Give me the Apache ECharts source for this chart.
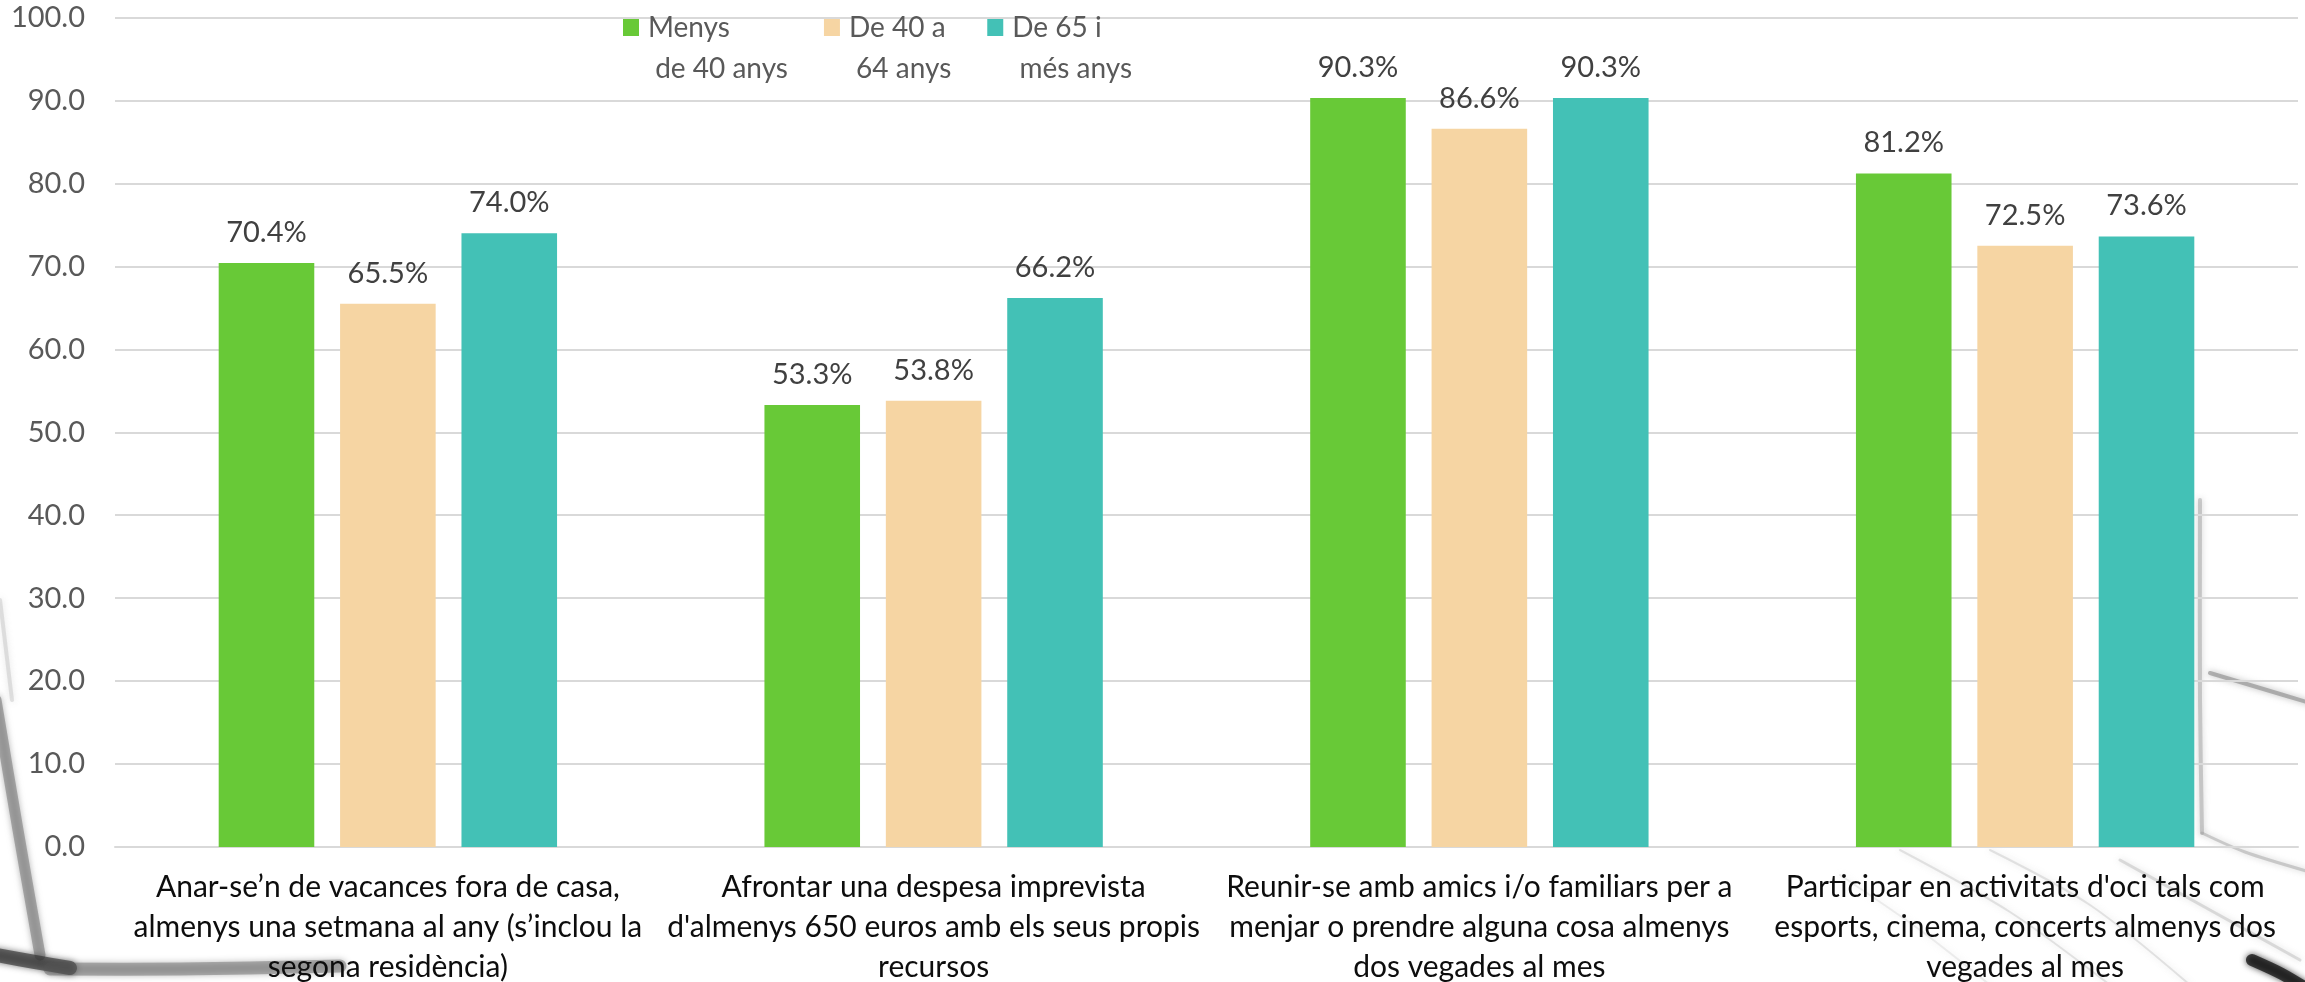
<!DOCTYPE html>
<html>
<head>
<meta charset="utf-8">
<script src="https://cdn.jsdelivr.net/npm/echarts@6/dist/echarts.min.js"></script>
<style>
  html, body { margin: 0; padding: 0; background: #fff; }
  #chart { width: 2305px; height: 982px; }
</style>
</head>
<body>
<div id="chart"></div>
<script>
const categories = [
  "Anar-se’n de vacances fora de casa,\nalmenys una setmana al any (s’inclou la\nsegona residència)",
  "Afrontar una despesa imprevista\nd'almenys 650 euros amb els seus propis\nrecursos",
  "Reunir-se amb amics i/o familiars per a\nmenjar o prendre alguna cosa almenys\ndos vegades al mes",
  "Participar en activitats d'oci tals com\nesports, cinema, concerts almenys dos\nvegades al mes"
];
const seriesNames = ["Menys de 40 anys", "De 40 a 64 anys", "De 65 i més anys"];
// legend text wraps like the original: blank first line keeps the square on line one
const legendLines = {
  "Menys de 40 anys": "\nMenys\n de 40 anys",
  "De 40 a 64 anys": "\nDe 40 a\n 64 anys",
  "De 65 i més anys": "\nDe 65 i\n més anys"
};
const under40 = [70.4, 53.3, 90.3, 81.2];
const from40to64 = [65.5, 53.8, 86.6, 72.5];
const over65 = [74.0, 66.2, 90.3, 73.6];
const colors = ["#68C937", "#F6D5A3", "#43C1B6"];

const chart = echarts.init(document.getElementById("chart"));
const font = "Lato, 'Liberation Sans', sans-serif";

function barSeries(name, data, color) {
  return {
    name,
    type: "bar",
    z: 3,
    data,
    barGap: "27%",
    barCategoryGap: "38%",
    itemStyle: { color },
    label: {
      show: true,
      position: "top",
      distance: 16,
      formatter: (p) => p.value.toFixed(1) + "%",
      fontFamily: font,
      fontSize: 29,
      color: "#404040"
    }
  };
}

// faint grey streaks of the slide background
function streak(points, width, color, opacity) {
  return {
    type: "polyline",
    silent: true,
    z: -10,
    shape: { points, smooth: 0.3 },
    style: {
      stroke: color, lineWidth: width, opacity, fill: null, lineCap: "round",
      shadowBlur: 6, shadowColor: color
    }
  };
}

chart.setOption({
  backgroundColor: "#fff",
  animation: false,
  textStyle: { fontFamily: font },
  grid: { left: 115, right: 7, top: 17.6, bottom: 135, outerBoundsMode: "none" },
  graphic: {
    elements: [
      streak([[-4, 700], [18, 830], [40, 955]], 11, "#777", 0.55),
      streak([[-4, 955], [35, 962], [70, 968]], 14, "#333", 0.65),
      streak([[50, 969], [180, 969], [340, 966]], 13, "#555", 0.4),
      streak([[0, 600], [6, 650], [12, 700]], 4, "#aaa", 0.3),
      streak([[2200, 500], [2200, 700], [2202, 833]], 4, "#999", 0.45),
      streak([[2202, 833], [2245, 852], [2310, 872]], 3, "#999", 0.45),
      streak([[2210, 673], [2260, 688], [2310, 703]], 4, "#777", 0.5),
      streak([[2252, 960], [2282, 974], [2312, 992]], 12, "#111", 0.75),
      streak([[1900, 850], [2010, 912], [2110, 985]], 2, "#aaa", 0.3),
      streak([[1990, 850], [2090, 905], [2190, 985]], 2, "#aaa", 0.3),
      streak([[2120, 860], [2210, 910], [2300, 960]], 3, "#999", 0.3),
      streak([[1840, 875], [1920, 930], [1990, 985]], 2, "#bbb", 0.25)
    ]
  },
  legend: {
    data: seriesNames,
    left: 618,
    top: -39,
    itemWidth: 16,
    itemHeight: 17,
    itemGap: 36,
    icon: "rect",
    formatter: (n) => legendLines[n],
    textStyle: {
      fontFamily: font,
      fontSize: 28,
      lineHeight: 41,
      color: "#595959",
      padding: [0, 0, 0, 4]
    }
  },
  xAxis: {
    type: "category",
    data: categories,
    axisTick: { show: false },
    axisLine: { lineStyle: { color: "#d9d9d9", width: 2 } },
    axisLabel: {
      interval: 0,
      margin: 20,
      fontFamily: font,
      fontSize: 30,
      lineHeight: 40,
      color: "#0d0d0d"
    }
  },
  yAxis: {
    type: "value",
    min: 0,
    max: 100,
    interval: 10,
    axisLine: { show: false },
    axisTick: { show: false },
    splitLine: { lineStyle: { color: "#d9d9d9", width: 2 } },
    axisLabel: {
      margin: 30,
      formatter: (v) => v.toFixed(1),
      fontFamily: font,
      fontSize: 29,
      color: "#595959"
    }
  },
  series: [
    barSeries(seriesNames[0], under40, colors[0]),
    barSeries(seriesNames[1], from40to64, colors[1]),
    barSeries(seriesNames[2], over65, colors[2])
  ]
});
</script>
</body>
</html>
